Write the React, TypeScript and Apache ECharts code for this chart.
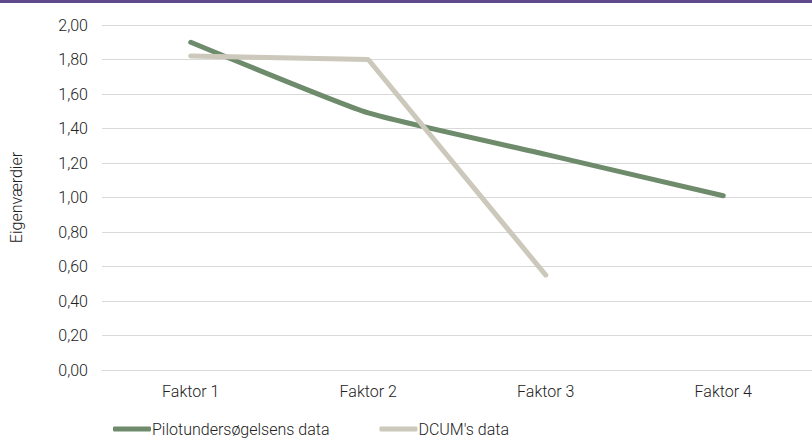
import React, { useEffect, useRef } from "react";
import * as echarts from "echarts";

const categories = ["Faktor 1", "Faktor 2", "Faktor 3", "Faktor 4"];
const pilotData = [1.9, 1.49, 1.25, 1.01];
const dcumData = [1.82, 1.8, 0.55, null];
const seriesNames = ["Pilotundersøgelsens data", "DCUM's data"];
const yAxisTitle = "Eigenværdier";

export default function App() {
  const ref = useRef<HTMLDivElement>(null);
  useEffect(() => {
    const chart = echarts.init(ref.current!, null, { renderer: "svg" });
    const font = "Roboto, sans-serif";
    const fw = 300;
    chart.setOption({
      animation: false,
      backgroundColor: "#ffffff",
      graphic: [
        { type: "rect", left: 0, top: 0, shape: { width: 812, height: 3 }, style: { fill: "#5f4b8b" } },
      ],
      grid: { left: 102, right: -2, top: 25, bottom: 69, containLabel: false },
      legend: {
        bottom: -3,
        left: 108,
        itemWidth: 38,
        itemHeight: 5,
        itemGap: 50,
        icon: "roundRect",
        textStyle: { fontFamily: font, fontWeight: fw, fontSize: 16, color: "#222", padding: [0, 0, 0, -4] },
        data: seriesNames,
      },
      xAxis: {
        type: "category",
        data: categories,
        boundaryGap: true,
        axisLine: { lineStyle: { color: "#d9d9d9", width: 1 } },
        axisTick: { show: false },
        axisLabel: { fontFamily: font, fontWeight: fw, fontSize: 16, color: "#222", margin: 13 },
      },
      yAxis: {
        type: "value",
        min: 0,
        max: 2,
        interval: 0.2,
        name: yAxisTitle,
        nameLocation: "middle",
        nameGap: 78,
        nameTextStyle: { fontFamily: font, fontWeight: fw, fontSize: 16, color: "#222" },
        axisLine: { show: false },
        axisTick: { show: false },
        splitLine: { lineStyle: { color: "#d9d9d9", width: 1 } },
        axisLabel: {
          fontFamily: font,
          fontWeight: fw,
          fontSize: 16,
          color: "#222",
          margin: 14,
          formatter: (v: number) => v.toFixed(2).replace(".", ","),
        },
      },
      series: [
        {
          name: seriesNames[0],
          type: "line",
          data: pilotData,
          smooth: 0.15,
          symbol: "none",
          lineStyle: { color: "#6e8b6c", width: 5, cap: "round" },
          itemStyle: { color: "#6e8b6c" },
        },
        {
          name: seriesNames[1],
          type: "line",
          data: dcumData,
          symbol: "none",
          lineStyle: { color: "#ccc8bb", width: 5, cap: "round" },
          itemStyle: { color: "#ccc8bb" },
        },
      ],
    });
    return () => chart.dispose();
  }, []);
  return <div ref={ref} style={{ position: "absolute", left: 0, top: 0, width: 812, height: 439 }} />;
}
